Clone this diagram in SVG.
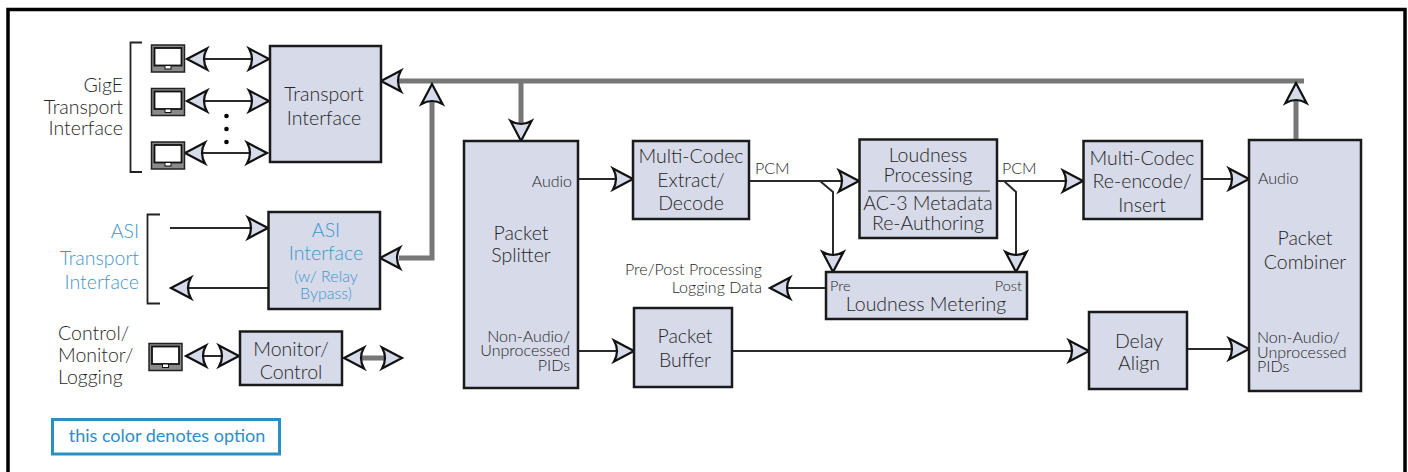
<svg xmlns="http://www.w3.org/2000/svg" width="1408" height="472" viewBox="0 0 1408 472">
<style>
text{font-family:"Lato","Liberation Sans",sans-serif;font-weight:300;fill:#262626;font-size:19.500px;text-anchor:middle}
.b{fill:#d6dae9;stroke:#1a1a1a;stroke-width:2.5}
.o{fill:#3f97cc}
.s{font-size:16px}
.p{font-size:14.500px}
.l{text-anchor:start}
.r{text-anchor:end}
.w{fill:none;stroke:#2a2a2a;stroke-width:2}
.t{fill:none;stroke:#777;stroke-width:5}
.h{fill:#d6dae9;stroke:#111;stroke-width:2.2;stroke-linejoin:miter}
</style>
<defs>
<path id="a" class="h" d="M0 0L-20-10.500Q-14 0-20 10.500Z"/>
<g id="m">
<rect x=".5" y=".5" width="33" height="27" fill="#8a8a8a" stroke="#222" stroke-width="1.500"/>
<rect x="3.500" y="3.500" width="27" height="17.500" fill="#fff" stroke="#111" stroke-width="1.800"/>
<rect x="14" y="21" width="6" height="3.500" fill="#fff" stroke="#111" stroke-width="1"/>
</g>
</defs>
<rect width="1408" height="472" fill="#fff"/>
<rect id="frame" x="8" y="9.500" width="1397" height="600" fill="none" stroke="#000" stroke-width="3.500"/>
<g id="connectors">
<path class="t" d="M399 81H1304M432 100V258H399M521 81V125M1296 140V100M360 358H385"/>
<path class="w" d="M205 59H252M205 101H252M203 153H250M170 228H250M268 288H188M204 356H222M578 179H615M578 351H616M749 181H841M820 181L833 192V254M997 181H1066M1004 181L1016 192V254M826 288H786M732 351H1071M1187 349H1231M1202 179H1231"/>
<use href="#a" transform="translate(187 59) rotate(180)"/><use href="#a" transform="translate(269 59)"/>
<use href="#a" transform="translate(187 101) rotate(180)"/><use href="#a" transform="translate(269 101)"/>
<use href="#a" transform="translate(185 153) rotate(180)"/><use href="#a" transform="translate(267 153)"/>
<use href="#a" transform="translate(381 81) rotate(180)"/><use href="#a" transform="translate(432 84) rotate(-90)"/>
<use href="#a" transform="translate(380 258) rotate(180)"/>
<use href="#a" transform="translate(268 228)"/><use href="#a" transform="translate(171 288) rotate(180)"/>
<use href="#a" transform="translate(186 356) rotate(180)"/><use href="#a" transform="translate(239 356)"/>
<use href="#a" transform="translate(344 358) rotate(180)"/><use href="#a" transform="translate(402 358)"/>
<use href="#a" transform="translate(521 141) rotate(90)"/><use href="#a" transform="translate(1296 83) rotate(-90)"/>
<use href="#a" transform="translate(633 179)"/><use href="#a" transform="translate(634 351)"/>
<use href="#a" transform="translate(859 181)"/><use href="#a" transform="translate(1083 181)"/>
<use href="#a" transform="translate(833 272) rotate(90)"/><use href="#a" transform="translate(1016 272) rotate(90)"/>
<use href="#a" transform="translate(770 288) rotate(180)"/>
<use href="#a" transform="translate(1089 351)"/><use href="#a" transform="translate(1249 349)"/><use href="#a" transform="translate(1249 179)"/>
</g>
<g id="gige-bracket"><path fill="none" stroke="#222" stroke-width="1.800" d="M142 42.500H130.500V172H142"/><text class="r" x="123" y="92">GigE</text><text class="r" x="123" y="114">Transport</text><text class="r" x="123" y="135">Interface</text></g>
<g id="asi-bracket"><path fill="none" stroke="#222" stroke-width="1.800" d="M160 214.500H147.500V303.500H160"/><text class="r o" x="139" y="238">ASI</text><text class="r o" x="139" y="265">Transport</text><text class="r o" x="139" y="289">Interface</text></g>
<g id="control-label"><text class="l" x="58" y="340">Control/</text><text class="l" x="58" y="362">Monitor/</text><text class="l" x="58" y="384">Logging</text></g>
<g id="monitor-1"><use href="#m" x="151" y="44.500"/></g>
<g id="monitor-2"><use href="#m" x="151" y="88"/></g>
<g id="monitor-3"><use href="#m" x="151" y="141.500"/></g>
<g id="monitor-4"><use href="#m" x="148.500" y="343"/></g>
<g id="dots"><circle cx="226.500" cy="116" r="2.300"/><circle cx="226.500" cy="129" r="2.300"/><circle cx="226.500" cy="142" r="2.300"/></g>
<g id="transport-interface"><rect class="b" x="270" y="46" width="111" height="116"/><text x="324" y="101">Transport</text><text x="324" y="125">Interface</text></g>
<g id="asi-interface"><rect class="b" x="268.500" y="212" width="111.500" height="97"/><text class="o" x="326" y="237">ASI</text><text class="o" x="326" y="260">Interface</text><text class="o s" x="326" y="282">(w/ Relay</text><text class="o s" x="326" y="299">Bypass)</text></g>
<g id="monitor-control"><rect class="b" x="240" y="331.500" width="102" height="53.500"/><text x="291" y="356">Monitor/</text><text x="291" y="379">Control</text></g>
<g id="packet-splitter"><rect class="b" x="464" y="141" width="114" height="247"/><text x="521" y="240">Packet</text><text x="521" y="262">Splitter</text><text class="s r" x="572" y="187">Audio</text><text class="s r" x="570" y="342">Non-Audio/</text><text class="s r" x="570" y="356">Unprocessed</text><text class="s r" x="570" y="371">PIDs</text></g>
<g id="multi-codec-decode"><rect class="b" x="633" y="141" width="116" height="78"/><text x="691" y="163">Multi-Codec</text><text x="691" y="187">Extract/</text><text x="691" y="210">Decode</text></g>
<g id="loudness-processing"><rect class="b" x="859.500" y="139.500" width="137.500" height="98.500"/><text x="928" y="162">Loudness</text><text x="928" y="182">Processing</text><path stroke="#444" stroke-width="1" d="M868 191H990"/><text x="928" y="210">AC-3 Metadata</text><text x="928" y="230">Re-Authoring</text></g>
<g id="loudness-metering"><rect class="b" x="826" y="272" width="201" height="47"/><text class="p l" x="830" y="291">Pre</text><text class="p r" x="1022" y="291">Post</text><text x="926" y="311">Loudness Metering</text></g>
<g id="packet-buffer"><rect class="b" x="634" y="308" width="98" height="79"/><text x="685" y="343">Packet</text><text x="685" y="367">Buffer</text></g>
<g id="multi-codec-encode"><rect class="b" x="1083.500" y="141" width="118.500" height="78"/><text x="1142" y="165">Multi-Codec</text><text x="1142" y="188">Re-encode/</text><text x="1142" y="212">Insert</text></g>
<g id="delay-align"><rect class="b" x="1089" y="312" width="98" height="77"/><text x="1139" y="348">Delay</text><text x="1139" y="370">Align</text></g>
<g id="packet-combiner"><rect class="b" x="1249" y="140" width="112" height="251"/><text x="1305" y="245">Packet</text><text x="1305" y="269">Combiner</text><text class="s l" x="1258" y="184">Audio</text><text class="s l" x="1257" y="343">Non-Audio/</text><text class="s l" x="1257" y="358">Unprocessed</text><text class="s l" x="1257" y="372">PIDs</text></g>
<g id="labels"><text class="s l" x="755" y="174">PCM</text><text class="s l" x="1002" y="174">PCM</text><text class="s r" x="762" y="275">Pre/Post Processing</text><text class="s r" x="762" y="293">Logging Data</text></g>
<g id="legend"><rect x="52.500" y="419.500" width="227" height="34.500" fill="#fff" stroke="#2a90c4" stroke-width="3"/><text x="167" y="442" style="font-size:18px;font-weight:400;fill:#2a90c4">this color denotes option</text></g>
</svg>
